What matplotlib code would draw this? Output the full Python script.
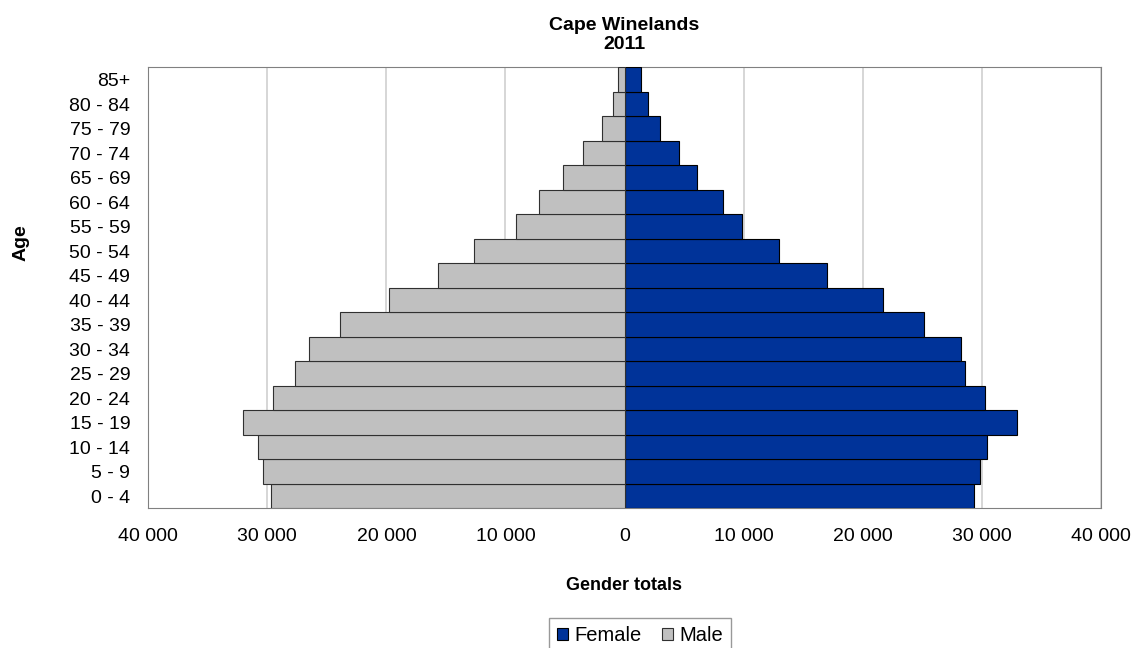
import matplotlib.pyplot as plt
from matplotlib.ticker import FuncFormatter

plt.rcParams['font.family'] = ['Liberation Sans', 'DejaVu Sans']

ages = ['0 - 4', '5 - 9', '10 - 14', '15 - 19', '20 - 24', '25 - 29', '30 - 34',
        '35 - 39', '40 - 44', '45 - 49', '50 - 54', '55 - 59', '60 - 64',
        '65 - 69', '70 - 74', '75 - 79', '80 - 84', '85+']
male = [29710, 30390, 30800, 32060, 29550, 27700, 26470, 23930, 19780,
        15670, 12650, 9130, 7150, 5130, 3480, 1910, 990, 520]
female = [29380, 29880, 30470, 32990, 30240, 28620, 28230, 25180, 21740,
          16990, 12940, 9860, 8240, 6060, 4550, 2950, 1950, 1360]

W, H = 1146, 648
fig = plt.figure(figsize=(W / 100, H / 100), dpi=100)
ax = fig.add_axes([148.3 / W, 1 - 508.3 / H, 952.4 / W, 441 / H])

y = list(range(len(ages)))
hf = ax.barh(y, female, height=1.0, color='#003399', edgecolor='#000000',
             linewidth=0.8, label='Female', zorder=3)
hm = ax.barh(y, [-v for v in male], height=1.0, color='#C0C0C0',
             edgecolor='#303030', linewidth=0.8, label='Male', zorder=3)

ax.set_xlim(-40000, 40000)
ax.set_ylim(-0.5, len(ages) - 0.5)
ax.set_xticks(range(-40000, 40001, 10000))
ax.xaxis.set_major_formatter(FuncFormatter(lambda v, p: f'{abs(int(v)):,}'.replace(',', ' ')))
ax.set_yticks(y)
ax.set_yticklabels(ages)
ax.tick_params(axis='both', labelsize=14, length=0)
ax.tick_params(axis='x', pad=14)
ax.tick_params(axis='y', pad=13)
ax.grid(axis='x', color='#D0D0D0', linewidth=1.2, zorder=0)
for s in ax.spines.values():
    s.set_color('#808080')

fig.text(624.5 / W, 1 - 35 / H, 'Cape Winelands\n2011', ha='center', va='center',
         fontsize=14, fontweight='bold', linespacing=1.15)
fig.text(624.5 / W, 1 - 585 / H, 'Gender totals', ha='center', va='center',
         fontsize=13, fontweight='bold')
fig.text(21 / W, 1 - 243 / H, 'Age', ha='center', va='center', rotation=90,
         fontsize=14, fontweight='bold')

leg = fig.legend(handles=[hf, hm], loc='upper center', bbox_to_anchor=(640 / W, 1 - 617.7 / H),
                 ncol=2, fontsize=14.5, frameon=True, fancybox=False,
                 handlelength=0.55, handleheight=0.55, handletextpad=0.3,
                 columnspacing=1.0, borderpad=0.4, borderaxespad=0)
leg.get_frame().set_edgecolor('#808080')
leg.get_frame().set_linewidth(1.0)

fig.savefig('out.png', dpi=100)
